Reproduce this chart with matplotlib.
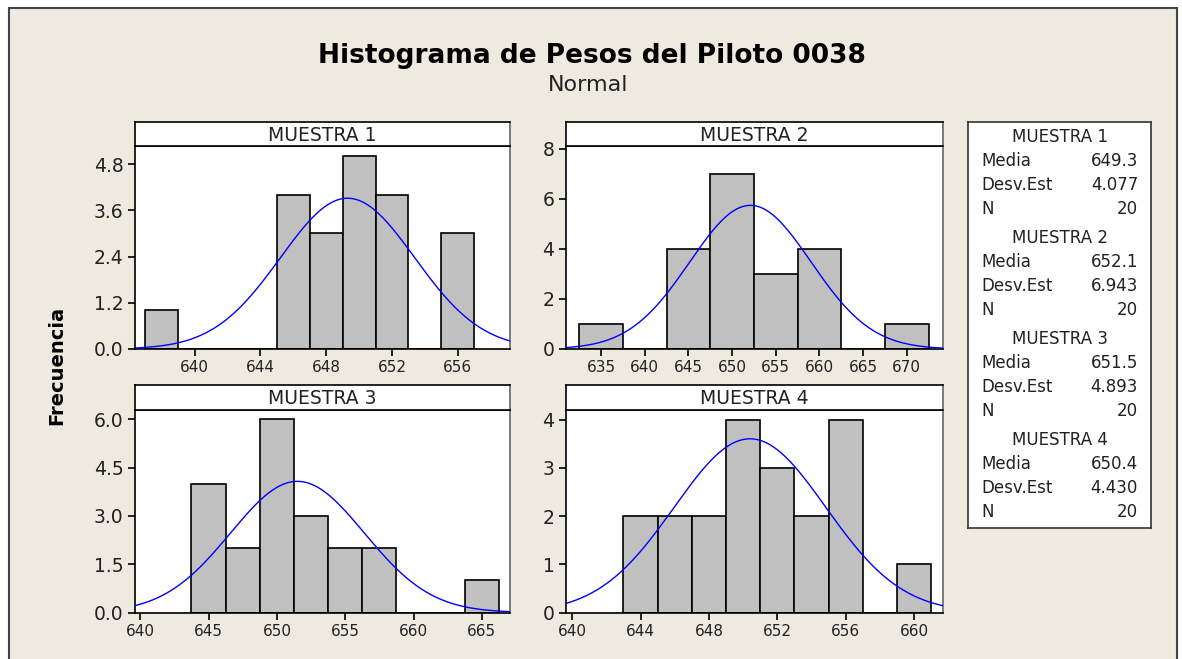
import numpy as np
import matplotlib.pyplot as plt
from matplotlib.patches import Rectangle

plt.rcParams['font.family'] = ['DejaVu Sans']

W, H = 1182, 659

# datos de las cuatro muestras
titulos = ['MUESTRA 1', 'MUESTRA 2', 'MUESTRA 3', 'MUESTRA 4']
medias = [649.3, 652.1, 651.5, 650.4]
desv_est = [4.077, 6.943, 4.893, 4.430]
n_obs = [20, 20, 20, 20]

centros1 = [638, 640, 642, 644, 646, 648, 650, 652, 654, 656]
frec1 = [1, 0, 0, 0, 4, 3, 5, 4, 0, 3]
centros2 = [635, 640, 645, 650, 655, 660, 665, 670]
frec2 = [1, 0, 4, 7, 3, 4, 0, 1]
centros3 = [645, 647.5, 650, 652.5, 655, 657.5, 660, 662.5, 665]
frec3 = [4, 2, 6, 3, 2, 2, 0, 0, 1]
centros4 = [644, 646, 648, 650, 652, 654, 656, 658, 660]
frec4 = [2, 2, 2, 4, 3, 2, 4, 0, 1]
anchos = [2, 5, 2.5, 2]

xticks = [[640, 644, 648, 652, 656],
          [635, 640, 645, 650, 655, 660, 665, 670],
          [640, 645, 650, 655, 660, 665],
          [640, 644, 648, 652, 656, 660]]
yticks = [[0, 1.2, 2.4, 3.6, 4.8], [0, 2, 4, 6, 8],
          [0, 1.5, 3.0, 4.5, 6.0], [0, 1, 2, 3, 4]]
ylabels = [['0.0', '1.2', '2.4', '3.6', '4.8'], ['0', '2', '4', '6', '8'],
           ['0.0', '1.5', '3.0', '4.5', '6.0'], ['0', '1', '2', '3', '4']]
centros = [centros1, centros2, centros3, centros4]
frecs = [frec1, frec2, frec3, frec4]

# layout en pixeles: x0, x1, y strip top, y plot top, y plot bottom
cajas = [(134.5, 510, 122, 146, 349), (565.5, 943, 122, 146, 349),
         (134.5, 509.5, 384.5, 409.5, 612.5), (565.5, 942.5, 384.5, 409.5, 612.5)]
xlims = [(636.34, 659.18), (630.92, 674.16), (639.58, 667.02), (639.61, 661.66)]
ylims = [5.27, 8.12, 6.31, 4.21]

fondo = '#EEEAE0'
fig = plt.figure(figsize=(W / 100, H / 100), dpi=100, facecolor='white')
fig.patches.append(Rectangle((9 / W, -0.01), (1177 - 9) / W, (H - 8) / H + 0.01,
                             transform=fig.transFigure, facecolor=fondo,
                             edgecolor='#444444', lw=1.5, zorder=-10))


def ax_px(x0, x1, ytop, ybot):
    return fig.add_axes([x0 / W, 1 - ybot / H, (x1 - x0) / W, (ybot - ytop) / H])


for i in range(4):
    x0, x1, ys, yt, yb = cajas[i]
    ax = ax_px(x0, x1, yt, yb)
    ax.bar(centros[i], frecs[i], width=anchos[i], color='#C0C0C0',
           edgecolor='black', linewidth=1.2, zorder=2)
    xs = np.linspace(xlims[i][0], xlims[i][1], 300)
    escala = n_obs[i] * anchos[i]
    ys_curva = escala * np.exp(-0.5 * ((xs - medias[i]) / desv_est[i]) ** 2) / (desv_est[i] * np.sqrt(2 * np.pi))
    ax.plot(xs, ys_curva, color='#0000FF', lw=1, zorder=3)
    ax.set_xlim(*xlims[i])
    ax.set_ylim(0, ylims[i])
    ax.set_xticks(xticks[i])
    ax.set_xticklabels([str(t) for t in xticks[i]], fontsize=11, color='#222222')
    ax.set_yticks(yticks[i])
    ax.set_yticklabels(ylabels[i], fontsize=13.5, color='#222222')
    ax.tick_params(direction='out', length=5, width=1.2, pad=3)
    for s in ax.spines.values():
        s.set_linewidth(1.2)
    ax.spines['right'].set_color('#666666')
    # franja del titulo
    st = ax_px(x0, x1, ys, yt)
    st.set_xticks([])
    st.set_yticks([])
    st.set_facecolor('white')
    for s in st.spines.values():
        s.set_linewidth(1.2)
    st.spines['right'].set_color('#666666')
    st.text(0.5, 0.45, titulos[i], ha='center', va='center', fontsize=13.5, color='#222222',
            transform=st.transAxes)

fig.text(592 / W, 1 - 56 / H, 'Histograma de Pesos del Piloto 0038', ha='center', va='center',
         fontsize=19, fontweight='bold', color='black')
fig.text(588 / W, 1 - 85 / H, 'Normal', ha='center', va='center', fontsize=16, color='#222222')
fig.text(57 / W, 1 - 365 / H, 'Frecuencia', rotation=90, ha='center', va='center',
         fontsize=14, fontweight='bold', color='black')

# cuadro de estadisticos
leg = ax_px(968, 1151, 122, 528)
leg.set_xlim(968, 1151)
leg.set_ylim(528, 122)
leg.set_xticks([])
leg.set_yticks([])
for s in leg.spines.values():
    s.set_linewidth(1.2)
    s.set_color('#333333')
for i in range(4):
    y0 = 137 + i * 101
    leg.text(1060, y0, titulos[i], ha='center', va='center', fontsize=12, color='#222222')
    filas = [('Media', f'{medias[i]:.1f}'), ('Desv.Est', f'{desv_est[i]:.3f}'), ('N', str(n_obs[i]))]
    for j, (nom, val) in enumerate(filas):
        yy = y0 + 24 * (j + 1)
        leg.text(981, yy, nom, ha='left', va='center', fontsize=12, color='#222222')
        leg.text(1138, yy, val, ha='right', va='center', fontsize=12, color='#222222')

fig.savefig('out.png', dpi=100, facecolor=fig.get_facecolor())
